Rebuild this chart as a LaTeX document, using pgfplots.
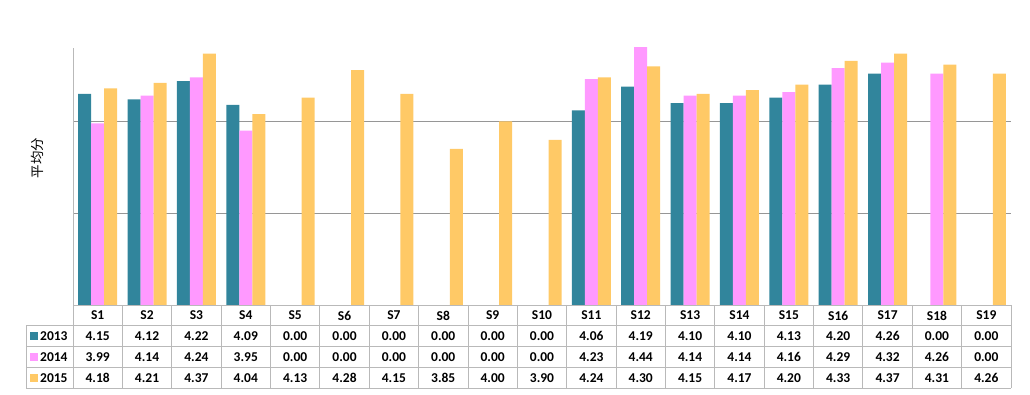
\documentclass[border=0pt]{standalone}
\usepackage{pgfplots}
\pgfplotsset{compat=1.18}
\usepackage{fontspec}
\setmainfont{Carlito}
\newfontfamily\cjk{Noto Sans CJK SC}
\definecolor{c13}{RGB}{49,133,156}
\definecolor{c14}{RGB}{255,153,255}
\definecolor{c15}{RGB}{255,201,102}
\definecolor{gridc}{RGB}{150,150,150}
\definecolor{tabc}{RGB}{185,185,185}
\begin{document}
\begin{tikzpicture}
\begin{axis}[
  scale only axis, width=938pt, height=257pt,
  anchor=south west, at={(0,0)},
  xmin=-0.5, xmax=18.5, ymin=3, ymax=4.4,
  ybar=0pt, bar width=13pt,
  xtick=\empty, ytick={3.5,4}, yticklabels={}, major tick length=0pt,
  ymajorgrids, grid style={gridc, line width=0.7pt},
  axis x line=bottom, axis y line=left, axis line style={tabc,-,line width=0.8pt},
]
\addplot[fill=c13, draw=none] coordinates {(0,4.15)(1,4.12)(2,4.22)(3,4.09)(10,4.06)(11,4.19)(12,4.10)(13,4.10)(14,4.13)(15,4.20)(16,4.26)};
\addplot[fill=c14, draw=none] coordinates {(0,3.99)(1,4.14)(2,4.24)(3,3.95)(10,4.23)(11,4.44)(12,4.14)(13,4.14)(14,4.16)(15,4.29)(16,4.32)(17,4.26)};
\addplot[fill=c15, draw=none] coordinates {(0,4.18)(1,4.21)(2,4.37)(3,4.04)(4,4.13)(5,4.28)(6,4.15)(7,3.85)(8,4.00)(9,3.90)(10,4.24)(11,4.30)(12,4.15)(13,4.17)(14,4.20)(15,4.33)(16,4.37)(17,4.31)(18,4.26)};
\end{axis}
\def\cw{49.368}
\begin{scope}[tabc, line width=0.8pt]
\foreach \i in {0,...,19} \draw ({\i*\cw pt},0) -- ({\i*\cw pt},-83pt);
\foreach \y in {-20.5,-41.5,-62.5,-83} \draw (-47pt,\y pt) -- (938pt,\y pt);
\draw (-47pt,-20.5pt) -- (-47pt,-83pt);
\end{scope}
\tikzset{cell/.style={font=\fontsize{13.5}{15}\selectfont\bfseries, text=black, inner sep=0pt}}
\foreach \i in {1,...,19} \node[cell] at ({(\i-0.5)*\cw pt},-10.5pt) {S\i};
\foreach \a [count=\i from 0] in {4.15,4.12,4.22,4.09,0.00,0.00,0.00,0.00,0.00,0.00,4.06,4.19,4.10,4.10,4.13,4.20,4.26,0.00,0.00}
  \node[cell] at ({(\i+0.5)*\cw pt},-31pt) {\a};
\foreach \a [count=\i from 0] in {3.99,4.14,4.24,3.95,0.00,0.00,0.00,0.00,0.00,0.00,4.23,4.44,4.14,4.14,4.16,4.29,4.32,4.26,0.00}
  \node[cell] at ({(\i+0.5)*\cw pt},-52pt) {\a};
\foreach \a [count=\i from 0] in {4.18,4.21,4.37,4.04,4.13,4.28,4.15,3.85,4.00,3.90,4.24,4.30,4.15,4.17,4.20,4.33,4.37,4.31,4.26}
  \node[cell] at ({(\i+0.5)*\cw pt},-73pt) {\a};
\foreach \c/\t/\y in {c13/2013/-31, c14/2014/-52, c15/2015/-73} {
  \fill[\c] (-42.5pt,{\y pt-3.75pt}) rectangle ++(7.5pt,7.5pt);
  \node[cell, anchor=west] at (-33pt,\y pt) {\t};
}
\node[rotate=90, font=\cjk\fontsize{13.5}{15}\selectfont] at (-36pt,147pt) {平均分};
\pgfresetboundingbox
\useasboundingbox (-73pt,-90pt) rectangle (957pt,305pt);
\end{tikzpicture}
\end{document}
